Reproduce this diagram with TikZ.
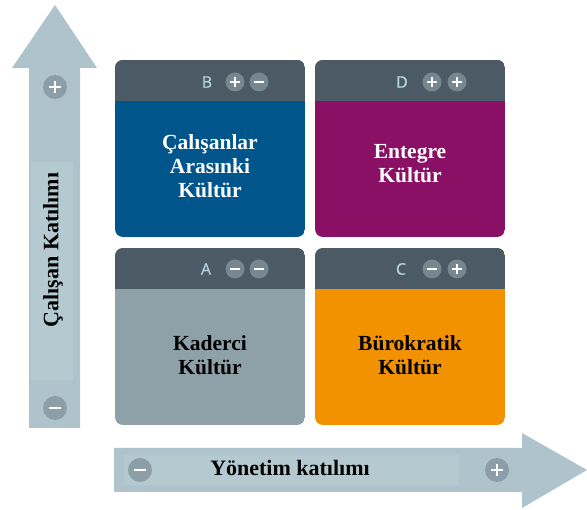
\documentclass[tikz,border=0pt]{standalone}
\usepackage{fontspec}
\setmainfont{Liberation Serif}
\newfontfamily\lettersans[FakeBold=0.8]{Open Sans}
\usetikzlibrary{calc}

\definecolor{arrowfill}{HTML}{AEC3CB}
\definecolor{arrowband}{HTML}{B4CAD0}
\definecolor{arrowdot}{HTML}{8C9FA8}
\definecolor{hdrfill}{HTML}{4B5A64}
\definecolor{hdrdot}{HTML}{76878F}
\definecolor{lettercol}{HTML}{B4D2DE}
\definecolor{bodyB}{HTML}{00568B}
\definecolor{bodyD}{HTML}{8A1066}
\definecolor{bodyA}{HTML}{8EA1A9}
\definecolor{bodyC}{HTML}{F39200}

\tikzset{
  bigarrow/.style={fill=arrowfill},
  dotarrow/.style={circle, fill=arrowdot, inner sep=0pt, minimum size=24pt},
  dothdr/.style={circle, fill=hdrdot, inner sep=0pt, minimum size=19pt},
  signbar/.style={draw=white, line width=2.6pt},
  boxtext/.style={font=\fontsize{21.5}{24}\selectfont\bfseries, align=center},
  letter/.style={font=\lettersans\fontsize{16}{18}\selectfont, text=lettercol},
  axislabel/.style={font=\fontsize{22}{24}\selectfont\bfseries}
}

% plus sign in a disc: name, style, position, half arm length
\newcommand\plusdisc[4]{%
  \node[#2] (#1) at (#3) {};
  \draw[signbar] ($(#1.center)+(-#4,0)$) -- ($(#1.center)+(#4,0)$);
  \draw[signbar] ($(#1.center)+(0,-#4)$) -- ($(#1.center)+(0,#4)$);}
% minus sign in a disc
\newcommand\minusdisc[4]{%
  \node[#2] (#1) at (#3) {};
  \draw[signbar] ($(#1.center)+(-#4,0)$) -- ($(#1.center)+(#4,0)$);}

% one quadrant: left, top, right, bottom, body colour
\newcommand\quadpanel[5]{%
  \begin{scope}
    \clip[rounded corners=8pt] (#1,#2) rectangle (#3,#4);
    \fill[#5] (#1,#2) rectangle (#3,#4);
    \fill[hdrfill] (#1,#2) rectangle (#3,#2+41);
  \end{scope}}

\begin{document}
\begin{tikzpicture}[x=1pt,y=-1pt]
\useasboundingbox (0,0) rectangle (587,510);

% vertical axis arrow
\fill[bigarrow] (29,428) -- (29,68) -- (12,68) -- (55,5) -- (97,68)
  -- (80,68) -- (80,428) -- cycle;
\fill[arrowband] (31,162) rectangle (73,380);
\plusdisc{vplus}{dotarrow}{55,87}{6}
\minusdisc{vminus}{dotarrow}{55,408}{6}
\node[axislabel, rotate=90] (vlabel) at (53,250) {Çalışan Katılımı};

% horizontal axis arrow
\fill[bigarrow] (114,448) -- (522,448) -- (522,433) -- (587,470)
  -- (522,508) -- (522,492) -- (114,492) -- cycle;
\fill[arrowband] (124,455) rectangle (459,485);
\minusdisc{hminus}{dotarrow}{140,470}{6}
\plusdisc{hplus}{dotarrow}{497,470}{6}
\node[axislabel] (hlabel) at (290,468) {Yönetim katılımı};

% quadrants
\quadpanel{115}{60}{305}{237}{bodyB}
\quadpanel{315}{60}{505}{237}{bodyD}
\quadpanel{115}{248}{305}{425}{bodyA}
\quadpanel{315}{248}{505}{425}{bodyC}

% header marks
\node[letter] (lB) at (207,82) {B};
\plusdisc{b1}{dothdr}{235,82}{5}
\minusdisc{b2}{dothdr}{259,82}{5}

\node[letter] (lD) at (402,82) {D};
\plusdisc{d1}{dothdr}{432,82}{5}
\plusdisc{d2}{dothdr}{457,82}{5}

\node[letter] (lA) at (206,269) {A};
\minusdisc{a1}{dothdr}{235,269}{5}
\minusdisc{a2}{dothdr}{259,269}{5}

\node[letter] (lC) at (401,269) {C};
\minusdisc{c1}{dothdr}{432,269}{5}
\plusdisc{c2}{dothdr}{457,269}{5}

% quadrant texts
\node[boxtext, text=white] (tB) at (210,166) {Çalışanlar\\Arasınki\\Kültür};
\node[boxtext, text=white] (tD) at (410,164) {Entegre\\Kültür};
\node[boxtext, text=black] (tA) at (210,355) {Kaderci\\Kültür};
\node[boxtext, text=black] (tC) at (410,355) {Bürokratik\\Kültür};
\end{tikzpicture}
\end{document}
